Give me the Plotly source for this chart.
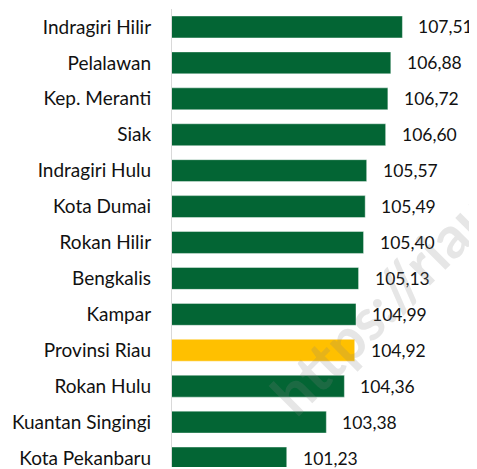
import plotly.graph_objects as go

categories = ["Indragiri Hilir", "Pelalawan", "Kep. Meranti", "Siak", "Indragiri Hulu",
              "Kota Dumai", "Rokan Hilir", "Bengkalis", "Kampar", "Provinsi Riau",
              "Rokan Hulu", "Kuantan Singingi", "Kota Pekanbaru"]
values = [107.51, 106.88, 106.72, 106.60, 105.57, 105.49, 105.40, 105.13, 104.99,
          104.92, 104.36, 103.38, 101.23]
value_labels = ["107,51", "106,88", "106,72", "106,60", "105,57", "105,49", "105,40",
                "105,13", "104,99", "104,92", "104,36", "103,38", "101,23"]
highlight = "Provinsi Riau"

GREEN = "#036534"
YELLOW = "#FFC000"
colors = [YELLOW if c == highlight else GREEN for c in categories]

FONT = "Lato"

fig = go.Figure()
fig.add_trace(go.Bar(
    x=values, y=categories, orientation="h",
    base=0,
    marker=dict(color=colors, line=dict(color="rgba(255,255,255,0.6)", width=0.7)),
    hoverinfo="skip",
))

for c, v, t in zip(categories, values, value_labels):
    fig.add_annotation(x=v, y=c, text=t, showarrow=False, xanchor="left",
                       xshift=14, font=dict(family=FONT, size=17.5, color="#111111"))

fig.add_annotation(text="https://riau.bps.go.id", xref="paper", yref="paper",
                   x=0.967, y=0.548, xanchor="center", yanchor="middle",
                   showarrow=False, textangle=-45,
                   font=dict(family=FONT, size=58, color="rgba(128,128,128,0.2)", weight="bold"))

# page has an 8px body margin: shift the figure so the plot lands where the reference has it
fig.update_layout(
    width=469, height=461,
    margin=dict(l=164, r=0, t=1, b=0),
    paper_bgcolor="white", plot_bgcolor="white",
    bargap=0.39,
    showlegend=False,
)
fig.update_xaxes(range=[95, 111.56], visible=False, showgrid=False)
fig.update_yaxes(range=[12.25, -0.5], showgrid=False, showline=True,
                 linecolor="#d9d9d9", linewidth=1.2, ticks="",
                 ticklabelstandoff=16,
                 tickfont=dict(family=FONT, size=19, color="#111111"))

fig.write_html("out.html")
